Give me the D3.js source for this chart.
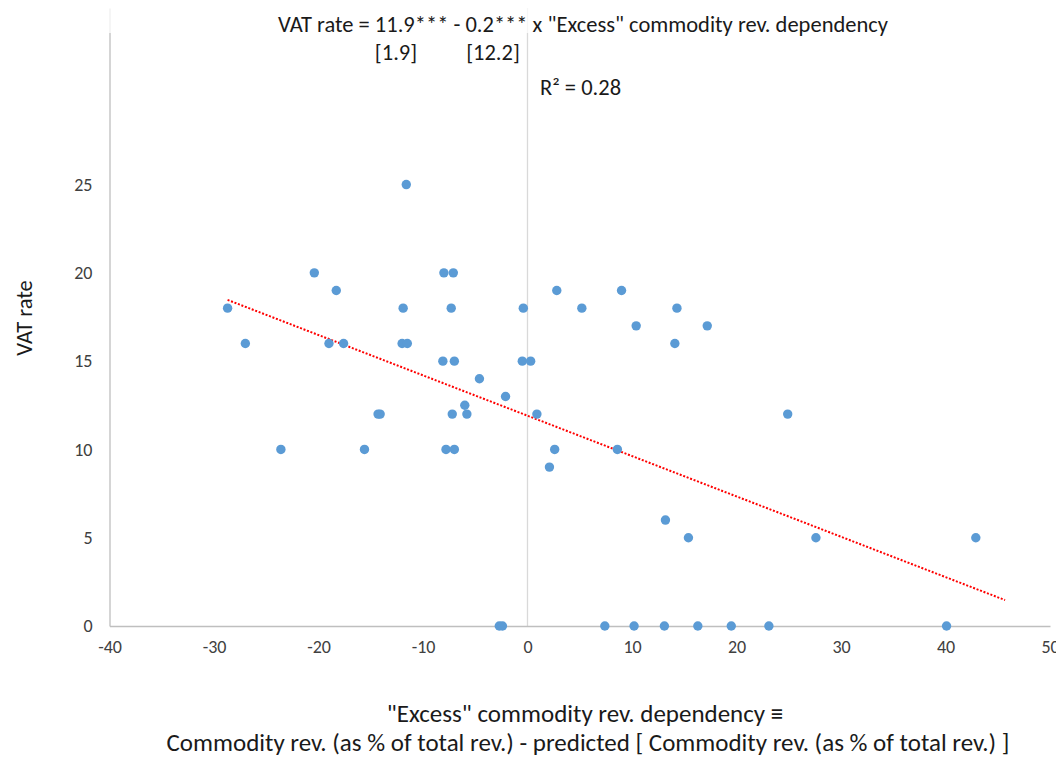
<!DOCTYPE html>
<html>
<head>
	<title>VAT rate</title>
	<meta charset='utf-8'>
	<style>
		body {
			margin: 0;
			background: #fff;
		}
		svg text {
			font-family: Carlito, Calibri, 'Liberation Sans Narrow', 'Open Sans', sans-serif;
		}
		.tick > line {
			display: none;
		}
		path.domain {
			stroke: #bfbfbf;
			stroke-width: 1.3px;
		}
		.dot {
			fill: #5b9bd5;
		}
		.trend {
			fill: none;
			stroke: #ff0000;
			stroke-width: 2px;
			stroke-dasharray: 2, 1.7;
		}
		.zero-line {
			stroke: #d9d9d9;
			stroke-width: 1.3px;
		}
		.label {
			fill: #1a1a1a;
		}
	</style>
</head>
<body>
<div id="chart"></div>
<script src='https://d3js.org/d3.v7.min.js'></script>
<script>
	'use strict';

	// "Excess" commodity rev. dependency
	const excessDep = [
		-28.7, -27.0, -23.6, -20.4, -19.0, -18.3, -17.6, -15.6, -14.3, -14.1,
		-11.6, -11.9, -12.0, -11.5, -8.0, -7.1, -7.3, -8.1, -7.0, -7.8,
		-7.0, -7.2, -6.0, -5.8, -4.6, -2.1, -0.5, 0.3, -0.4, 0.9,
		2.6, 2.1, 2.8, 5.2, 9.0, 10.4, 14.3, 14.1, 17.2, 8.6,
		13.2, 15.4, 24.9, 27.6, 42.9, -2.7, -2.4, 7.4, 10.2, 13.1,
		16.3, 19.5, 23.1, 40.1
	];
	// VAT rate
	const vatRate = [
		18, 16, 10, 20, 16, 19, 16, 10, 12, 12,
		25, 18, 16, 16, 20, 20, 18, 15, 15, 10,
		10, 12, 12.5, 12, 14, 13, 15, 15, 18, 12,
		10, 9, 19, 18, 19, 17, 18, 16, 17, 10,
		6, 5, 12, 5, 5, 0, 0, 0, 0, 0,
		0, 0, 0, 0
	];

	const xTicks = [-40, -30, -20, -10, 0, 10, 20, 30, 40, 50];
	const yTicks = [0, 5, 10, 15, 20, 25];

	// линия тренда: y = a + b * x
	const trendIntercept = 11.91;
	const trendSlope = -0.2285;
	const trendRange = [-28.7, 45.7];

	const titleLine = 'VAT rate = 11.9*** - 0.2*** x "Excess" commodity rev. dependency';
	const seLabels = ['[1.9]', '[12.2]'];
	const r2Label = 'R\u00b2 = 0.28';
	const xLabelLines = [
		'"Excess" commodity rev. dependency \u2261',
		'Commodity rev. (as % of total rev.) - predicted [ Commodity rev. (as % of total rev.) ]'
	];

	const W = 1056;
	const H = 758;
	const margin = {top: 8, right: 6, bottom: 132, left: 109.5};
	const width = W - margin.left - margin.right;
	const height = H - margin.top - margin.bottom;

	const xScale = d3.scaleLinear().domain([-40, 50]).range([0, width]);
	const yScale = d3.scaleLinear().domain([0, 35]).range([height, 0]);

	const data = excessDep.map((x, i) => ({x: x, y: vatRate[i]}));

	const root = d3.select('div#chart').append('svg')
		.attr('width', W)
		.attr('height', H);

	const svg = root.append('g')
		.attr('transform', 'translate(' + margin.left + ',' + margin.top + ')');

	// вертикальная линия x = 0
	svg.append('line')
		.attr('class', 'zero-line')
		.attr('x1', xScale(0)).attr('x2', xScale(0))
		.attr('y1', 0).attr('y2', height);

	const plainNum = function(d) {return String(d);};

	svg.append('g')
		.attr('class', 'axis axis__x')
		.attr('transform', 'translate(0,' + height + ')')
		.call(d3.axisBottom(xScale).tickValues(xTicks).tickFormat(plainNum)
			.tickSize(0).tickPadding(14).tickSizeOuter(0));

	svg.append('g')
		.attr('class', 'axis axis__y')
		.call(d3.axisLeft(yScale).tickValues(yTicks).tickFormat(plainNum)
			.tickSize(0).tickPadding(17).tickSizeOuter(0));

	// подписи делений крупнее, как в Excel
	svg.selectAll('.axis .tick text')
		.style('font-size', '18px')
		.style('fill', '#404040')
		.style('font-family', "Carlito, Calibri, 'Liberation Sans Narrow', sans-serif");

	// линия тренда
	const trendLine = d3.line()
		.x(function(d) {return xScale(d);})
		.y(function(d) {return yScale(trendIntercept + trendSlope * d);});

	svg.append('path')
		.datum(trendRange)
		.attr('class', 'trend')
		.attr('d', trendLine);

	// точки
	svg.selectAll('circle.dot')
		.data(data)
		.enter().append('circle')
		.attr('class', 'dot')
		.attr('r', 4.7)
		.attr('cx', function(d) {return xScale(d.x);})
		.attr('cy', function(d) {return yScale(d.y);});

	// полупрозрачная подложка под уравнением
	root.append('rect')
		.attr('x', 100).attr('y', 0)
		.attr('width', W - 100).attr('height', 33)
		.attr('fill', '#fff')
		.attr('opacity', 0.75);

	root.append('text')
		.attr('class', 'label')
		.attr('x', 583).attr('y', 32)
		.attr('text-anchor', 'middle')
		.style('font-size', '22.5px')
		.text(titleLine);

	root.selectAll('text.se')
		.data(seLabels)
		.enter().append('text')
		.attr('class', 'label se')
		.attr('x', function(d, i) {return [396, 493][i];})
		.attr('y', 60)
		.attr('text-anchor', 'middle')
		.style('font-size', '22.5px')
		.text(function(d) {return d;});

	root.append('text')
		.attr('class', 'label')
		.attr('x', 540).attr('y', 95)
		.style('font-size', '22.5px')
		.text(r2Label);

	root.append('text')
		.attr('class', 'label')
		.attr('transform', 'translate(32,318) rotate(-90)')
		.attr('text-anchor', 'middle')
		.style('font-size', '22.5px')
		.text('VAT rate');

	root.selectAll('text.xlabel')
		.data(xLabelLines)
		.enter().append('text')
		.attr('class', 'label xlabel')
		.attr('x', function(d, i) {return [585, 588][i];})
		.attr('y', function(d, i) {return [722, 751][i];})
		.attr('text-anchor', 'middle')
		.style('font-size', '25px')
		.text(function(d) {return d;});
</script>
</body>
</html>
